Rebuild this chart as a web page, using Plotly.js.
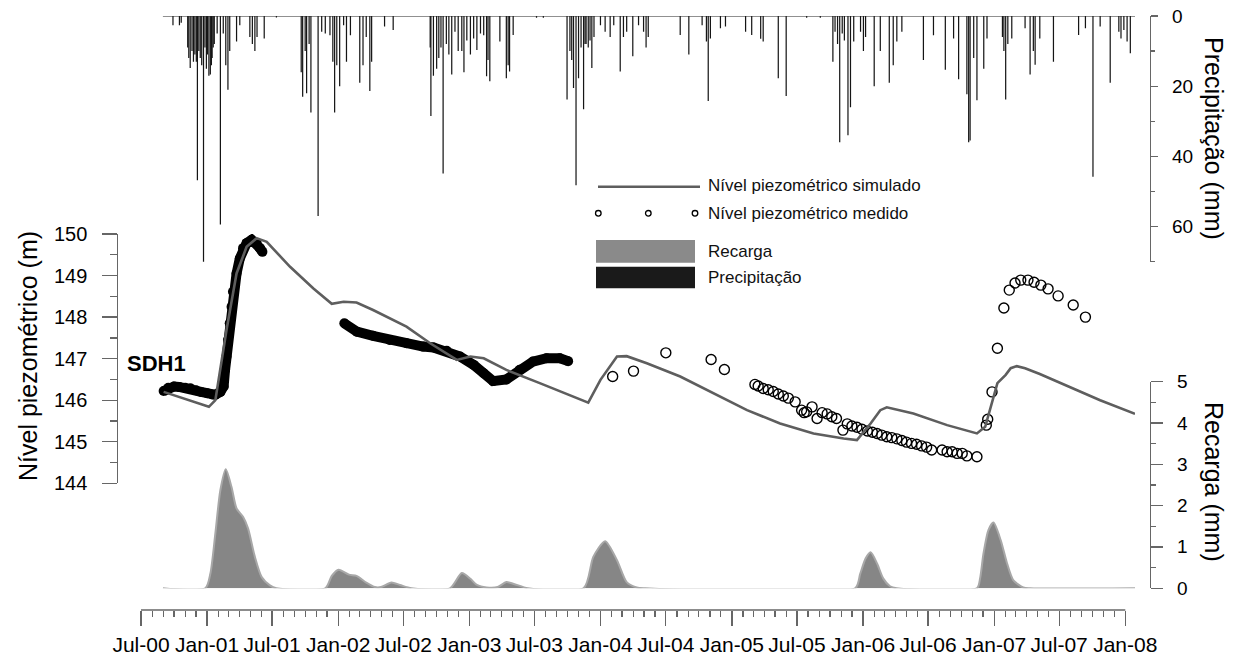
<!DOCTYPE html>
<html>
<head>
<meta charset="utf-8">
<script src="https://cdn.plot.ly/plotly-3.0.1.min.js"></script>
<style>html,body{margin:0;padding:0;background:#fff;}#chart{width:1233px;height:661px;}</style>
</head>
<body>
<div id="chart"></div>
<script>
// ---------------- DATA ----------------
const precipDates = ['2000-09-28','2000-10-16','2000-10-21','2000-11-08','2000-11-11','2000-11-15','2000-11-20','2000-11-24','2000-11-28','2000-12-02','2000-12-05','2000-12-09','2000-12-13','2000-12-17','2000-12-22','2000-12-26','2000-12-30','2001-01-02','2001-01-06','2001-01-10','2001-01-13','2001-01-15','2001-01-18','2001-01-21','2001-01-29','2001-02-07','2001-02-15','2001-02-22','2001-02-28','2001-03-05','2001-03-24','2001-04-02','2001-04-30','2001-05-07','2001-05-14','2001-05-20','2001-06-09','2001-07-13',
'2001-09-20','2001-09-24','2001-10-01','2001-10-05','2001-10-12','2001-10-17','2001-11-06','2001-11-16','2001-11-26','2001-12-09','2001-12-17','2001-12-22','2001-12-28','2002-01-05','2002-01-16','2002-01-24','2002-02-04','2002-03-02','2002-03-11','2002-03-20','2002-03-30','2002-04-04','2002-05-10','2002-06-03',
'2002-09-14','2002-09-16','2002-09-23','2002-10-02','2002-10-08','2002-10-14','2002-10-20','2002-10-29','2002-11-05','2002-11-13','2002-11-22','2002-12-01','2002-12-11','2002-12-17','2002-12-25','2003-01-04','2003-01-13','2003-01-22','2003-02-01','2003-02-10','2003-02-18','2003-02-22','2003-02-27','2003-03-27','2003-04-14','2003-04-19','2003-04-23','2003-05-03','2003-07-07','2003-07-26',
'2003-09-30','2003-10-08','2003-10-13','2003-10-18','2003-10-25','2003-11-01','2003-11-08','2003-11-15','2003-11-19','2003-11-22','2003-11-28','2003-12-03','2003-12-08','2003-12-14','2004-01-01','2004-01-14','2004-01-28','2004-02-07','2004-02-25','2004-03-05','2004-03-14','2004-03-31','2004-04-16','2004-04-30','2004-05-07','2004-05-13',
'2004-08-10','2004-09-03','2004-10-10','2004-10-22','2004-10-27','2004-11-02','2004-11-30','2004-12-14','2005-02-08','2005-02-25','2005-03-22','2005-03-29','2005-05-10','2005-06-01','2005-07-28','2005-09-04',
'2005-10-09','2005-10-15','2005-10-22','2005-10-28','2005-11-04','2005-11-10','2005-11-20','2005-11-27','2005-12-06','2005-12-25','2006-01-02','2006-01-08','2006-02-01','2006-02-18','2006-03-15','2006-03-26','2006-04-05','2006-04-19',
'2006-06-18','2006-07-16','2006-08-18','2006-09-10','2006-09-24','2006-10-17','2006-10-22','2006-10-26','2006-11-05','2006-11-14','2006-12-03','2006-12-12','2007-01-24','2007-01-28','2007-02-02','2007-02-08','2007-02-19','2007-03-28','2007-04-11','2007-04-20','2007-04-25','2007-05-08','2007-06-15',
'2007-08-24','2007-09-12','2007-10-03','2007-10-23','2007-11-20','2007-12-14','2007-12-20','2007-12-28','2008-01-06','2008-01-15'];
const precipValues = [2.6,2.6,1.9,9,12,14.8,10,13,11,13,46.8,10,12,14,72,9,15,11,17,16.7,14,12,9,8,5,59.4,5,14,21,10,7.3,2.6,6,8,10,6,6.4,0.4,
16,23,10,22,8,27.5,57,4.5,5,5.5,13,27.5,14,20,2.6,13,5.5,19,14,6,21.4,13,3,4,
9,28.5,17,15,12,9,44.9,8,11,16.7,4.5,10,10,16,7,11,6.4,9.7,5,5.5,17.2,12.5,18.6,7.3,17.7,14,15.8,5.4,0.5,0.5,
23.8,10,12.5,20.5,48.2,17.7,9,26.6,8,8,9,7,14.8,6,2.6,4.5,6,2.6,15.8,6,4.5,11.5,2.6,4.5,9,6,
5.4,11,2.6,7.3,24.2,6.4,3.5,3,4.5,5.4,6.5,7.3,17.7,22.8,0.5,0.5,
13,4.5,8,36,5,7,34,26,7.3,4.5,10,6,20,10,19,14,7.3,4.5,
12.5,5.5,15.3,6.4,18,22.3,36,35.5,12,24,15,6.4,6,10,23.8,8,6.4,3.5,16.7,10,13.9,6.4,13,
5.4,3.5,45.8,3,19,4.5,6.4,4,7.3,10.6];

const simDates = ['2000-09-02','2000-11-01','2001-01-06','2001-01-24','2001-02-24','2001-03-24','2001-04-21','2001-05-19','2001-06-16','2001-08-20','2001-10-24','2001-12-14','2002-01-16','2002-02-21','2002-04-08','2002-07-10','2002-09-14','2002-11-27','2003-01-04','2003-02-10','2003-04-14','2003-07-16','2003-11-06','2003-11-28','2004-01-01','2004-02-16','2004-03-14','2004-05-09','2004-08-10','2004-11-11','2005-02-12','2005-05-15','2005-08-16','2005-11-08','2005-12-15','2006-01-22','2006-02-18','2006-03-08','2006-05-21','2006-08-23','2006-11-14','2006-12-07','2007-01-10','2007-02-02','2007-02-16','2007-03-05','2007-03-28','2007-05-08','2007-08-01','2007-10-23','2008-01-28'];
const simValues = [146.20,146.02,145.84,146.00,147.69,149.05,149.69,149.90,149.81,149.21,148.69,148.32,148.37,148.35,148.17,147.77,147.37,146.97,147.05,147.01,146.73,146.41,146.02,145.94,146.49,147.05,147.06,146.89,146.57,146.17,145.76,145.44,145.20,145.08,145.04,145.44,145.76,145.83,145.68,145.40,145.20,145.36,146.41,146.61,146.77,146.82,146.77,146.63,146.32,146.00,145.67];

// continuous record (dense measurements), null = gap in the record
const measContDates = ['2000-09-02','2000-09-15','2000-10-01','2000-10-15','2000-11-01','2000-11-15','2000-12-01','2000-12-15','2001-01-01','2001-01-15','2001-01-24','2001-02-07','2001-02-16','2001-02-20','2001-02-24','2001-02-28','2001-03-05','2001-03-10','2001-03-14','2001-03-24','2001-04-02','2001-04-11','2001-04-21','2001-05-05','2001-05-19','2001-05-28','2001-06-04',
'2001-09-01',
'2002-01-18','2002-02-22','2002-04-08','2002-05-24','2002-07-10','2002-08-25','2002-09-23','2002-10-30','2002-12-06','2003-01-13','2003-02-10','2003-03-08','2003-04-14','2003-05-21','2003-06-27','2003-08-04','2003-09-10','2003-10-03'];
const measContValues = [146.22,146.30,146.33,146.32,146.30,146.29,146.24,146.20,146.17,146.14,146.13,146.20,146.33,146.73,147.05,147.45,147.85,148.25,148.61,149.05,149.41,149.66,149.78,149.86,149.78,149.66,149.57,
null,
147.85,147.65,147.55,147.45,147.37,147.29,147.27,147.19,147.05,146.85,146.65,146.46,146.50,146.73,146.93,147.01,147.01,146.94];

// individual measurements
const measDates = ['2004-02-04','2004-04-02','2004-07-01','2004-11-04','2004-12-11','2005-03-06','2005-03-15','2005-03-29','2005-04-12','2005-04-26','2005-05-10','2005-05-24','2005-06-07','2005-06-26','2005-07-14','2005-07-21','2005-07-28','2005-08-12','2005-08-26','2005-09-09','2005-09-23','2005-10-06','2005-10-19','2005-11-06','2005-11-18','2005-12-01','2005-12-15','2005-12-29','2006-01-13','2006-01-27','2006-02-09','2006-02-22','2006-03-08','2006-03-22','2006-04-05','2006-04-19','2006-05-02','2006-05-16','2006-05-30','2006-06-13','2006-06-27','2006-07-11','2006-08-09','2006-08-23','2006-09-06','2006-09-20','2006-10-04','2006-10-17','2006-11-14','2006-12-10','2006-12-14','2006-12-26','2007-01-10','2007-01-28','2007-02-12','2007-02-28','2007-03-16','2007-04-05','2007-04-22','2007-05-11','2007-05-31','2007-06-28','2007-08-09','2007-09-12'];
const measValues = [146.57,146.70,147.14,146.98,146.74,146.38,146.34,146.28,146.25,146.21,146.15,146.10,146.05,145.96,145.76,145.70,145.72,145.84,145.56,145.70,145.67,145.60,145.56,145.28,145.43,145.38,145.35,145.30,145.26,145.23,145.20,145.16,145.12,145.10,145.07,145.03,144.99,144.96,144.94,144.90,144.87,144.80,144.80,144.76,144.76,144.72,144.72,144.66,144.64,145.40,145.54,146.20,147.25,148.22,148.65,148.82,148.89,148.89,148.84,148.77,148.68,148.51,148.29,148.00];

const rechargeDates = ['2000-08-31','2000-12-27','2001-01-10','2001-01-24','2001-02-07','2001-02-22','2001-03-10','2001-03-24','2001-04-11','2001-04-25','2001-05-14','2001-06-02','2001-06-25','2001-07-13',
'2001-11-26','2001-12-14','2002-01-02','2002-01-31','2002-02-21','2002-03-20','2002-04-13','2002-04-30','2002-05-29','2002-06-22','2002-07-24',
'2002-11-08','2002-12-11','2003-01-04','2003-01-22','2003-02-18','2003-03-21','2003-04-14','2003-05-07','2003-06-13',
'2003-11-15','2003-12-12','2004-01-14','2004-02-16','2004-03-14','2004-04-11','2004-05-04',
'2005-12-10','2005-12-24','2006-01-08','2006-01-22','2006-02-09','2006-02-26','2006-03-17','2006-04-05',
'2006-11-14','2006-11-23','2006-12-02','2006-12-16','2006-12-30','2007-01-19','2007-02-06','2007-02-23','2007-03-23','2007-04-11','2008-01-28'];
const rechargeValues = [0,0,0.35,1.33,2.38,2.88,2.45,1.93,1.73,1.45,0.76,0.27,0.07,0,
0,0.30,0.45,0.33,0.30,0.14,0.03,0.03,0.14,0.08,0,
0,0.37,0.23,0.08,0.02,0.03,0.15,0.10,0,
0,0.76,1.14,0.68,0.15,0.02,0,
0,0.35,0.72,0.87,0.60,0.24,0.05,0,
0,0.25,0.83,1.41,1.59,1.17,0.60,0.20,0.02,0,0];

// tick labels of the three vertical axes
const piezoTicks = [144,145,146,147,148,149,150];
const precipTicks = [0,20,40,60];
const rechargeTicks = [0,1,2,3,4,5];

const legendLabels = ['Nível piezométrico simulado','Nível piezométrico medido','Recarga','Precipitação'];
const xTickFormat = '%b-%y';
const seriesStart = '2000-08-31';
const seriesEnd = '2008-01-28';

// ---------------- LAYOUT HELPERS ----------------
const W = 1233, H = 661, ML = 117, MR = 83;
const PW = W - ML - MR;
const px = v => (v - ML) / PW;   // pixel x -> paper x
const py = v => 1 - v / H;       // pixel y -> paper y
const FONT = 'Liberation Sans, Arial, sans-serif';
const AX = '#666666';
const xAxisY = 610;

const traces = [
  {type:'bar', x:precipDates, y:precipValues, xaxis:'x', yaxis:'y2',
   width:3.4*86400000, marker:{color:'#151515', line:{width:0}}, cliponaxis:false, showlegend:false, hoverinfo:'skip'},
  {type:'scatter', mode:'lines', x:rechargeDates, y:rechargeValues, xaxis:'x', yaxis:'y3',
   fill:'tozeroy', fillcolor:'#868686', line:{color:'#a8a8a8', width:2, shape:'spline', smoothing:0.7}, showlegend:false, hoverinfo:'skip'},
  {type:'scatter', mode:'lines+markers', x:measContDates, y:measContValues, xaxis:'x', yaxis:'y',
   connectgaps:false, line:{color:'#000', width:10}, marker:{symbol:'circle', size:10, color:'#000'}, cliponaxis:false, showlegend:false, hoverinfo:'skip'},
  {type:'scatter', mode:'markers', x:measDates, y:measValues, xaxis:'x', yaxis:'y',
   marker:{symbol:'circle-open', size:10, color:'#000', line:{width:1.4}}, cliponaxis:false, showlegend:false, hoverinfo:'skip'},
  {type:'scatter', mode:'lines', x:simDates, y:simValues, xaxis:'x', yaxis:'y',
   line:{color:'#5e5e5e', width:2.6}, showlegend:false, hoverinfo:'skip'}
];

const commonY = {showgrid:false, zeroline:false, showline:true, linecolor:AX, linewidth:1.3, showticklabels:false,
  ticks:'outside', tickcolor:AX, tickwidth:1.3, anchor:'free', fixedrange:true};

const tickAnn = (vals, yref, xPix, anchor, size) => vals.map(v => ({
  xref:'paper', yref:yref, x:px(xPix), y:v, text:String(v), showarrow:false,
  xanchor:anchor, yanchor:'middle', font:{family:FONT, size:size, color:'#000'}
}));

const annotations = [
  {xref:'paper', yref:'paper', x:px(706), y:py(186), text:legendLabels[0], showarrow:false, xanchor:'left', yanchor:'middle', font:{family:FONT, size:17, color:'#111'}},
  {xref:'paper', yref:'paper', x:px(706), y:py(213), text:legendLabels[1], showarrow:false, xanchor:'left', yanchor:'middle', font:{family:FONT, size:17, color:'#111'}},
  {xref:'paper', yref:'paper', x:px(706), y:py(251.7), text:legendLabels[2], showarrow:false, xanchor:'left', yanchor:'middle', font:{family:FONT, size:17, color:'#111'}},
  {xref:'paper', yref:'paper', x:px(706), y:py(277.3), text:legendLabels[3], showarrow:false, xanchor:'left', yanchor:'middle', font:{family:FONT, size:17, color:'#111'}},
  {xref:'paper', yref:'paper', x:px(28), y:py(356), text:'Nível piezométrico (m)', showarrow:false, textangle:-90, xanchor:'center', yanchor:'middle', font:{family:FONT, size:25, color:'#000'}},
  {xref:'paper', yref:'paper', x:px(1214), y:py(138), text:'Precipitação (mm)', showarrow:false, textangle:90, xanchor:'center', yanchor:'middle', font:{family:FONT, size:25, color:'#000'}},
  {xref:'paper', yref:'paper', x:px(1214), y:py(482), text:'Recarga (mm)', showarrow:false, textangle:90, xanchor:'center', yanchor:'middle', font:{family:FONT, size:25, color:'#000'}},
  {xref:'paper', yref:'paper', x:px(156), y:py(363), text:'<b>SDH1</b>', showarrow:false, xanchor:'center', yanchor:'middle', font:{family:FONT, size:22, color:'#000'}}
].concat(
  tickAnn(piezoTicks, 'y', 89, 'right', 20),
  tickAnn(precipTicks, 'y2', 1170, 'left', 19),
  tickAnn(rechargeTicks, 'y3', 1175, 'left', 19)
);

const layout = {
  width:W, height:H,
  margin:{l:ML, r:MR, t:0, b:0, pad:0},
  paper_bgcolor:'#fff', plot_bgcolor:'rgba(0,0,0,0)',
  showlegend:false,
  font:{family:FONT, color:'#000'},
  xaxis:{type:'date', range:['2000-07-01','2008-01-28'], domain:[px(141), px(1135)],
    anchor:'free', position:py(xAxisY), showline:false, showgrid:false, zeroline:false,
    tickformat:xTickFormat, dtick:'M6', tick0:'2000-07-01', ticks:'outside', ticklen:15, tickwidth:1.3, tickcolor:AX,
    ticklabelstandoff:1,
    tickfont:{family:FONT, size:21, color:'#000'},
    minor:{dtick:'M1', tick0:'2000-07-01', ticks:'outside', ticklen:6, tickwidth:1.2, tickcolor:AX, showgrid:false},
    fixedrange:true},
  yaxis:Object.assign({}, commonY, {domain:[py(483.3), py(234)], range:[144,150], position:0, side:'left',
    dtick:1, ticklen:15,
    minor:{dtick:0.5, ticks:'outside', ticklen:7, tickcolor:AX, tickwidth:1.3, showgrid:false}}),
  yaxis2:Object.assign({}, commonY, {domain:[py(261.7), py(16)], range:[70,0], position:1, side:'right',
    dtick:20, ticklen:7,
    minor:{dtick:10, ticks:'outside', ticklen:4, tickcolor:AX, tickwidth:1.3, showgrid:false}}),
  yaxis3:Object.assign({}, commonY, {domain:[py(588.3), py(381.7)], range:[0,5], position:1, side:'right',
    dtick:1, ticklen:12,
    minor:{dtick:0.5, ticks:'outside', ticklen:5, tickcolor:AX, tickwidth:1.3, showgrid:false}}),
  shapes:[
    {type:'line', xref:'x', yref:'paper', x0:'2000-07-01', x1:'2008-01-01', y0:py(xAxisY), y1:py(xAxisY), line:{color:AX, width:1.3}},
    {type:'line', xref:'x', yref:'y2', x0:seriesStart, x1:seriesEnd, y0:0, y1:0, line:{color:'#222', width:1}},
    {type:'line', xref:'paper', yref:'paper', x0:px(598), x1:px(700), y0:py(186.7), y1:py(186.7), line:{color:'#5e5e5e', width:2.6}},
    {type:'circle', xref:'paper', yref:'paper', xsizemode:'pixel', ysizemode:'pixel', xanchor:px(598.3), yanchor:py(213.3), x0:-2.8, x1:2.8, y0:-2.8, y1:2.8, line:{color:'#000', width:1.3}},
    {type:'circle', xref:'paper', yref:'paper', xsizemode:'pixel', ysizemode:'pixel', xanchor:px(648.3), yanchor:py(213.3), x0:-2.8, x1:2.8, y0:-2.8, y1:2.8, line:{color:'#000', width:1.3}},
    {type:'circle', xref:'paper', yref:'paper', xsizemode:'pixel', ysizemode:'pixel', xanchor:px(695), yanchor:py(213.3), x0:-2.8, x1:2.8, y0:-2.8, y1:2.8, line:{color:'#000', width:1.3}},
    {type:'rect', xref:'paper', yref:'paper', x0:px(596), x1:px(695), y0:py(262.7), y1:py(240), fillcolor:'#8a8a8a', line:{width:0}},
    {type:'rect', xref:'paper', yref:'paper', x0:px(596), x1:px(695), y0:py(288.3), y1:py(266.7), fillcolor:'#1a1a1a', line:{width:0}}
  ],
  annotations:annotations
};

Plotly.newPlot('chart', traces, layout, {staticPlot:true, displayModeBar:false});
</script>
</body>
</html>
